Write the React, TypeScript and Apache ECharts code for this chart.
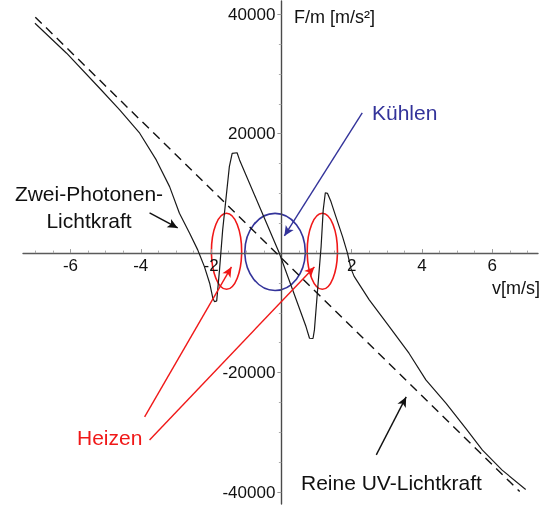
import React, { useEffect, useRef } from "react";
import * as echarts from "echarts";

// Two-photon light force vs. velocity (solid)
const velocity = [
  -7.01, -6.11, -5.17, -4.6, -4.03, -3.56, -3.18, -2.9, -2.61, -2.38, -2.19, -2.04, -1.95, -1.9, -1.84,
  -1.76, -1.67, -1.57, -1.48, -1.4, -1.26, -1.19, -0.6, -0.06, 0.7, 0.8, 0.9, 0.94, 1.03, 1.13, 1.19,
  1.25, 1.31, 1.41, 1.55, 1.74, 1.88, 1.98, 2.07, 2.5, 3.07, 3.63, 4.11, 4.68, 5.24, 5.72, 6.28, 6.95,
];
const forceTwoPhoton = [
  38480, 33460, 27600, 23970, 20070, 15600, 11130, 6680, 3330, 540, -2260, -5040, -7550, -8150, -8000,
  -2810, 3880, 9460, 14480, 16700, 16800, 15600, 7450, 0, -12300, -14250, -14300, -12860, -6160, 1090, 7230,
  10100, 10000, 8620, 6110, 2760, 0, -2600, -3900, -7830, -12300, -16760, -21230, -25130, -29310, -32990, -36330, -39570,
];

// Pure UV light force (dashed straight line)
const uvVelocity = [-7.0, 6.78];
const uvForce = [39500, -39900];

// Axis ticks
const xMajorTicks = [-6, -4, -2, 2, 4, 6];
const xMinorTicks = [-7, -6.5, -5.5, -5, -4.5, -3.5, -3, -2.5, -1.5, -1, -0.5, 0.5, 1, 1.5, 2.5, 3, 3.5, 4.5, 5, 5.5, 6.5, 7];
const yMajorTicks = [-40000, -20000, 20000, 40000];
const yMinorTicks = [-35000, -30000, -25000, -15000, -10000, -5000, 5000, 10000, 15000, 25000, 30000, 35000];

// Annotation ellipses (center and half-axes in data units)
const ellipseNames = ["heatLeft", "cool", "heatRight"];
const ellipseCx = [-1.56, -0.18, 1.165];
const ellipseCy = [300, 200, 300];
const ellipseRx = [0.43, 0.86, 0.43];
const ellipseRy = [6360, 6450, 6360];
const ellipseColors = ["#f01818", "#33339a", "#f01818"];

// Annotation arrows: start and tip in data units
const arrowFrom = [
  [2.3, 23470],
  [-3.89, -27400],
  [-3.75, -31270],
  [-3.75, 6730],
  [2.7, -33780],
];
const arrowTo = [
  [0.085, 2880],
  [-1.42, -2310],
  [0.94, -2310],
  [-2.95, 4220],
  [3.55, -24070],
];
const arrowColors = ["#33339a", "#f01818", "#f01818", "#111111", "#111111"];

const FONT = "Liberation Sans, Arial, Helvetica, sans-serif";
const X_MIN = -7.35;
const X_MAX = 7.3;
const Y_MIN = -42000;
const Y_MAX = 42200;

const W = 541;
const H = 507;
const GRID_LEFT = 23;
const GRID_RIGHT = 3;
const GRID_TOP = 1;
const GRID_BOTTOM = 3;

export default function App() {
  const ref = useRef<HTMLDivElement>(null);

  useEffect(() => {
    if (!ref.current) return;
    const chart = echarts.init(ref.current, null, { renderer: "svg" });

    const solidData = velocity.map((v, i) => [v, forceTwoPhoton[i]]);
    const dashedData = uvVelocity.map((v, i) => [v, uvForce[i]]);

    // Axes cross at the origin: shift them from the grid edges to the zero lines
    const gridW = W - GRID_LEFT - GRID_RIGHT;
    const gridH = H - GRID_TOP - GRID_BOTTOM;
    const yAxisShift = -(gridW * (0 - X_MIN)) / (X_MAX - X_MIN);
    const xAxisShift = -(gridH * (0 - Y_MIN)) / (Y_MAX - Y_MIN);

    const xBase = {
      type: "value" as const,
      min: X_MIN,
      max: X_MAX,
      position: "bottom" as const,
      offset: xAxisShift,
      splitLine: { show: false },
    };
    const yBase = {
      type: "value" as const,
      min: Y_MIN,
      max: Y_MAX,
      position: "left" as const,
      offset: yAxisShift,
      splitLine: { show: false },
    };

    const textStyle = (text: string, size: number, fill: string, align = "left") => ({
      text,
      font: `${size}px ${FONT}`,
      fill,
      textAlign: align,
      textVerticalAlign: "middle",
      align,
      verticalAlign: "middle",
    });

    chart.setOption({
      animation: false,
      grid: {
        left: GRID_LEFT,
        right: GRID_RIGHT,
        top: GRID_TOP,
        bottom: GRID_BOTTOM,
        containLabel: false,
        outerBoundsMode: "none",
      },
      xAxis: [
        {
          ...xBase,
          axisLine: { show: true, onZero: false, lineStyle: { color: "#5a5a5a", width: 1.4 } },
          axisTick: { show: true, inside: true, length: 4, customValues: xMajorTicks, lineStyle: { color: "#999" } },
          axisLabel: {
            show: true,
            customValues: xMajorTicks,
            margin: 4,
            color: "#111",
            fontSize: 17,
            fontFamily: FONT,
            formatter: (v: number) => String(v),
          },
        },
        {
          ...xBase,
          axisLine: { show: false, onZero: false },
          axisTick: { show: true, inside: true, length: 2.5, customValues: xMinorTicks, lineStyle: { color: "#aaa" } },
          axisLabel: { show: false },
        },
      ],
      yAxis: [
        {
          ...yBase,
          axisLine: { show: true, onZero: false, lineStyle: { color: "#4a4a4a", width: 1.4 } },
          axisTick: { show: true, inside: false, length: 4, customValues: yMajorTicks, lineStyle: { color: "#999" } },
          axisLabel: {
            show: true,
            customValues: yMajorTicks,
            margin: 6,
            color: "#111",
            fontSize: 17,
            fontFamily: FONT,
            formatter: (v: number) => String(v),
          },
        },
        {
          ...yBase,
          axisLine: { show: false, onZero: false },
          axisTick: { show: true, inside: false, length: 2.5, customValues: yMinorTicks, lineStyle: { color: "#aaa" } },
          axisLabel: { show: false },
        },
      ],
      series: [
        {
          name: "Zwei-Photonen-Lichtkraft",
          type: "line",
          xAxisIndex: 0,
          yAxisIndex: 0,
          data: solidData,
          showSymbol: false,
          symbol: "none",
          silent: true,
          lineStyle: { color: "#1a1a1a", width: 1.2 },
        },
        {
          name: "Reine UV-Lichtkraft",
          type: "line",
          xAxisIndex: 0,
          yAxisIndex: 0,
          data: dashedData,
          showSymbol: false,
          symbol: "none",
          silent: true,
          lineStyle: { color: "#111", width: 1.4, type: [9, 6] },
          markLine: {
            silent: true,
            animation: false,
            symbol: ["none", "arrow"],
            symbolSize: [7, 10],
            label: { show: false },
            emphasis: { disabled: true },
            data: arrowFrom.map((from, i) => [
              {
                coord: from,
                lineStyle: { color: arrowColors[i], width: 1.4, type: "solid" },
                itemStyle: { color: arrowColors[i] },
              },
              { coord: arrowTo[i] },
            ]),
          },
        },
      ],
      graphic: [
        { type: "text", x: 294, y: 17, silent: true, style: textStyle("F/m [m/s²]", 18, "#111") },
        { type: "text", x: 492, y: 288, silent: true, style: textStyle("v[m/s]", 18, "#111") },
        { type: "text", x: 372, y: 112, silent: true, style: textStyle("Kühlen", 21, "#33339a") },
        { type: "text", x: 77, y: 437, silent: true, style: textStyle("Heizen", 21, "#f01818") },
        {
          type: "text",
          x: 89,
          y: 206.5,
          silent: true,
          style: { ...textStyle("Zwei-Photonen-\nLichtkraft", 21, "#111", "center"), lineHeight: 27 },
        },
        { type: "text", x: 301, y: 482, silent: true, style: textStyle("Reine UV-Lichtkraft", 21, "#111") },
      ],
    });

    // Ellipses are placed through the grid's own coordinate conversion
    const ellipses = ellipseNames.map((name, i) => {
      const c = chart.convertToPixel({ gridIndex: 0 }, [ellipseCx[i], ellipseCy[i]]) as number[];
      const e = chart.convertToPixel({ gridIndex: 0 }, [
        ellipseCx[i] + ellipseRx[i],
        ellipseCy[i] + ellipseRy[i],
      ]) as number[];
      return {
        type: "ellipse",
        id: name,
        silent: true,
        shape: { cx: c[0], cy: c[1], rx: Math.abs(e[0] - c[0]), ry: Math.abs(e[1] - c[1]) },
        style: { fill: "none", stroke: ellipseColors[i], lineWidth: 1.6 },
      };
    });
    chart.setOption({ graphic: ellipses });

    return () => chart.dispose();
  }, []);

  return <div ref={ref} style={{ position: "fixed", left: 0, top: 0, width: W, height: H }} />;
}
